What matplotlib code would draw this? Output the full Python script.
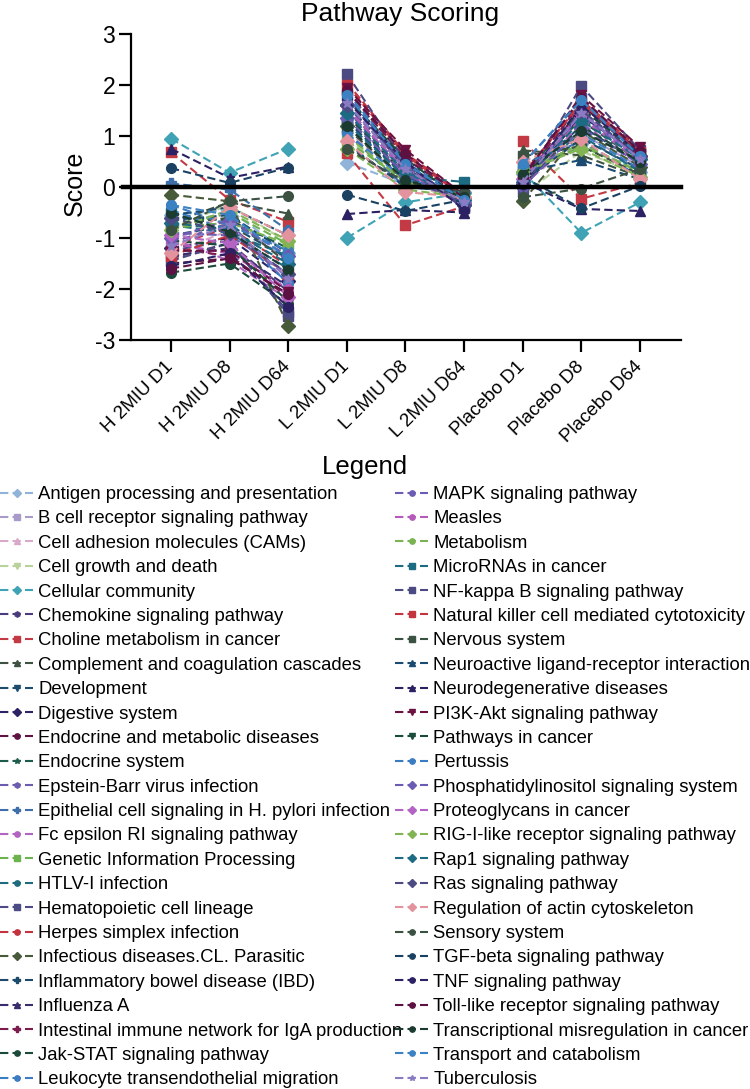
import matplotlib
matplotlib.use("Agg")
import matplotlib.pyplot as plt

plt.rcParams['font.family'] = ['Liberation Sans', 'DejaVu Sans']

groups = ['H 2MIU D1', 'H 2MIU D8', 'H 2MIU D64',
          'L 2MIU D1', 'L 2MIU D8', 'L 2MIU D64',
          'Placebo D1', 'Placebo D8', 'Placebo D64']

pathways = [
    'Antigen processing and presentation', 'B cell receptor signaling pathway',
    'Cell adhesion molecules (CAMs)', 'Cell growth and death', 'Cellular community',
    'Chemokine signaling pathway', 'Choline metabolism in cancer',
    'Complement and coagulation cascades', 'Development', 'Digestive system',
    'Endocrine and metabolic diseases', 'Endocrine system', 'Epstein-Barr virus infection',
    'Epithelial cell signaling in H. pylori infection', 'Fc epsilon RI signaling pathway',
    'Genetic Information Processing', 'HTLV-I infection', 'Hematopoietic cell lineage',
    'Herpes simplex infection', 'Infectious diseases.CL. Parasitic',
    'Inflammatory bowel disease (IBD)', 'Influenza A',
    'Intestinal immune network for IgA production', 'Jak-STAT signaling pathway',
    'Leukocyte transendothelial migration', 'MAPK signaling pathway', 'Measles',
    'Metabolism', 'MicroRNAs in cancer', 'NF-kappa B signaling pathway',
    'Natural killer cell mediated cytotoxicity', 'Nervous system',
    'Neuroactive ligand-receptor interaction', 'Neurodegenerative diseases',
    'PI3K-Akt signaling pathway', 'Pathways in cancer', 'Pertussis',
    'Phosphatidylinositol signaling system', 'Proteoglycans in cancer',
    'RIG-I-like receptor signaling pathway', 'Rap1 signaling pathway',
    'Ras signaling pathway', 'Regulation of actin cytoskeleton', 'Sensory system',
    'TGF-beta signaling pathway', 'TNF signaling pathway',
    'Toll-like receptor signaling pathway', 'Transcriptional misregulation in cancer',
    'Transport and catabolism', 'Tuberculosis']

# scores per time point, one value per pathway (same order as above)
h_d1 = [-0.55, -1.05, -1.30, -0.80, 0.95, -1.40, 0.68, -0.70, -0.95, -1.20,
        -1.50, -0.60, -1.10, 0.07, -1.00, -0.85, -0.75, -1.25, -1.15, -0.15,
        -0.65, -1.35, -1.20, -1.68, -0.45, -0.90, -1.10, -0.80, -0.50, -1.45,
        -1.35, -0.75, -0.55, 0.75, -1.25, -1.05, -0.35, -1.00, -0.95, -0.85,
        -0.70, -0.60, -1.30, -0.85, 0.37, -1.55, -1.60, -0.50, -0.35, -1.15]
h_d8 = [-0.45, -0.60, -0.85, -0.35, 0.28, -1.10, -0.25, -0.30, -0.75, -1.00,
        -1.40, -0.65, -0.70, -0.05, -1.45, -0.50, -0.90, -1.05, -0.80, -0.28,
        -0.55, -1.20, -1.35, -1.50, -0.85, -0.95, -1.30, -0.70, -0.90, -1.10,
        -0.95, -0.60, -0.40, 0.18, -1.25, -1.15, -0.75, -0.65, -1.10, -0.45,
        -0.85, -0.90, -0.40, -0.28, 0.08, -1.30, -1.40, -0.88, -0.55, -0.75]
h_d64 = [-1.30, -1.45, -1.75, -1.10, 0.75, -2.05, -0.68, -0.52, -1.40, -1.85,
         -2.10, -1.20, -1.90, -0.85, -2.20, -1.12, -1.60, -2.52, -1.55, -2.72,
         -1.30, -1.95, -2.15, -2.30, -1.88, -1.70, -2.00, -1.12, -1.35, -2.45,
         -1.70, -1.50, -0.95, 0.40, -2.05, -2.25, -1.25, -1.35, -2.15, -1.05,
         -1.50, -1.70, -0.95, -0.18, 0.38, -2.35, -2.10, -1.62, -1.40, -1.80]
l_d1 = [0.48, 1.25, 1.10, 0.95, -1.00, 1.75, 0.66, 0.80, 1.35, 1.60,
        1.90, 1.50, 1.65, 1.05, 1.45, 0.90, 1.55, 1.80, 2.05, 1.20,
        1.30, 1.70, 1.85, 1.40, 1.85, 1.50, 1.55, 1.00, 1.25, 2.22,
        2.00, 1.15, 0.85, -0.53, 1.95, 1.75, 1.05, 1.35, 1.60, 0.75,
        1.45, 1.60, 0.90, 0.75, -0.15, 1.70, 1.90, 1.20, 1.80, 1.65]
l_d8 = [0.05, 0.20, 0.15, 0.10, -0.30, 0.35, -0.75, 0.05, 0.25, 0.40,
        0.55, 0.30, 0.35, 0.00, 0.20, 0.12, 0.30, 0.40, 0.66, 0.10,
        0.20, 0.45, 0.60, 0.25, 0.48, 0.33, 0.30, 0.10, 0.20, 0.50,
        0.62, 0.15, 0.00, -0.45, 0.73, 0.55, 0.15, 0.25, 0.38, -0.05,
        0.30, 0.45, -0.10, 0.10, -0.47, 0.50, 0.65, 0.14, 0.45, 0.35]
l_d64 = [-0.10, -0.25, -0.20, -0.30, -0.12, -0.30, -0.38, -0.15, -0.25, -0.35,
         -0.20, -0.30, -0.40, -0.10, -0.35, -0.18, -0.28, -0.42, -0.15, -0.22,
         -0.25, -0.35, -0.25, -0.30, -0.20, -0.30, -0.35, -0.15, 0.10, -0.40,
         -0.18, -0.20, -0.10, -0.50, -0.16, -0.28, -0.12, -0.32, -0.30, -0.20,
         -0.25, -0.35, -0.20, -0.10, -0.25, -0.45, -0.22, -0.20, -0.25, -0.30]
p_d1 = [0.25, 0.10, 0.05, -0.15, 0.30, 0.20, 0.90, 0.72, 0.15, 0.00,
        -0.05, 0.35, 0.10, 0.40, 0.05, 0.25, 0.15, -0.10, 0.20, -0.28,
        0.10, 0.05, 0.15, 0.00, 0.45, 0.20, 0.10, 0.30, 0.35, 0.05,
        0.25, 0.60, 0.30, 0.10, 0.15, 0.05, 0.40, 0.00, 0.15, 0.30,
        0.10, 0.05, 0.50, -0.20, 0.20, 0.05, 0.20, 0.25, 0.45, 0.10]
p_d8 = [0.85, 1.05, 0.95, 0.70, -0.90, 1.45, -0.23, 0.62, 1.20, 1.40,
        1.60, 1.30, 1.50, 0.90, 1.25, 0.80, 1.35, 1.75, 1.70, 1.10,
        0.95, 1.55, 1.65, 1.20, 1.72, 1.40, 1.35, 0.85, 1.00, 1.98,
        1.65, 0.80, 0.53, -0.43, 1.80, 1.55, 1.05, 1.15, 1.45, 0.75,
        1.30, 1.50, 0.95, -0.03, -0.42, 1.60, 1.75, 1.10, 1.70, 1.45]
p_d64 = [0.30, 0.40, 0.35, 0.25, -0.30, 0.55, 0.08, 0.20, 0.45, 0.60,
         0.70, 0.50, 0.55, 0.20, 0.45, 0.30, 0.55, 0.65, 0.75, 0.40,
         0.35, 0.60, 0.70, 0.50, 0.60, 0.55, 0.50, 0.30, 0.30, 0.72,
         0.68, 0.25, 0.15, -0.47, 0.78, 0.65, 0.35, 0.45, 0.55, 0.20,
         0.55, 0.60, 0.15, 0.35, 0.02, 0.65, 0.70, 0.50, 0.60, 0.55]

colors = ['#8fb3d9', '#a89bc9', '#d9a9c9', '#b9d19a', '#3fa3b5', '#4b3b7d', '#c43a44',
          '#3d5240', '#1d4d6e', '#2d2266', '#5e1443', '#1c5c4c', '#6d5bb0', '#3f6faa',
          '#b363c2', '#6cb24d', '#1d6b7d', '#4c4b86', '#c3323f', '#475a3a', '#1d4a6b',
          '#3a2c6d', '#7b1c4d', '#1b4a3a', '#3b7cc2', '#6c5cb3', '#b25bb8', '#7bb352',
          '#1c6b83', '#4b4a82', '#c2353f', '#3b5142', '#1b4b72', '#2b2163', '#6b1243',
          '#1b4b3b', '#3a7cc3', '#6b5bb3', '#b263c3', '#82b453', '#1c6b83', '#4b4a83',
          '#e3939d', '#3b5142', '#1b4162', '#2b2163', '#5b1242', '#1b3b31', '#3b82c3',
          '#8a7bc3']
markers = ['D', 's', '^', 'v', 'D', 'h', 's', '^', 'v', 'D',
           'o', '*', 'h', 'P', 'o', 's', 'o', 's', 'o', 'D',
           'P', '^', 'P', 'o', 'o', 'o', 'o', 'o', 's', 's',
           's', 's', '^', '^', 'v', 'v', 'o', 'D', 'D', 'D',
           'D', 'D', 'D', 'o', 'o', 'o', 'o', 'o', 'o', '*']

W, H = 750, 1089
fig = plt.figure(figsize=(W / 100, H / 100), dpi=100)
ax = fig.add_axes([131 / W, 1 - 340 / H, 550 / W, 306 / H])

xpos = list(range(len(groups)))
for i, name in enumerate(pathways):
    vals = [h_d1[i], h_d8[i], h_d64[i], l_d1[i], l_d8[i], l_d64[i],
            p_d1[i], p_d8[i], p_d64[i]]
    for g in range(3):
        ax.plot(xpos[g * 3:g * 3 + 3], vals[g * 3:g * 3 + 3], color=colors[i],
                marker=markers[i], ms=7, ls=(0, (4, 2)), lw=1.5,
                label=name if g == 0 else None)

ax.axhline(0, xmin=-8 / 550, xmax=1.0, color='black', lw=3.2, clip_on=False, zorder=5)

ax.set_xlim(-0.68, 8.7)
ax.set_ylim(-3, 3)
ax.set_yticks([-3, -2, -1, 0, 1, 2, 3])
ax.set_yticklabels(['-3', '-2', '-1', '0', '1', '2', '3'])
ax.set_xticks(xpos)
ax.set_xticklabels(groups, rotation=45, ha='right', va='center', rotation_mode='anchor')
ax.spines['top'].set_visible(False)
ax.spines['right'].set_visible(False)
for s in ('left', 'bottom'):
    ax.spines[s].set_linewidth(1.6)
ax.tick_params(axis='y', length=8.5, width=1.6, labelsize=16.5, pad=3)
ax.tick_params(axis='x', length=8.5, width=1.6, labelsize=13.5, pad=9)

fig.text(400 / W, 1 - 21 / H, 'Pathway Scoring', ha='center', va='baseline', fontsize=19)
fig.text(75 / W, 1 - 183 / H, 'Score', rotation=90, ha='center', va='center', fontsize=18)
fig.text(365 / W, 1 - 467 / H, 'Legend', ha='center', va='center', fontsize=18.5)

handles, labels = ax.get_legend_handles_labels()
for k, x0 in enumerate([0, 395]):
    fig.legend(handles[k * 25:(k + 1) * 25], labels[k * 25:(k + 1) * 25],
               loc='upper left', bbox_to_anchor=(x0 / W, 1 - 486 / H),
               frameon=False, fontsize=13.3, borderpad=0, borderaxespad=0,
               handlelength=1.8, handletextpad=0.27, labelspacing=0.4,
               markerscale=0.55)

fig.savefig('out.png', dpi=100)
